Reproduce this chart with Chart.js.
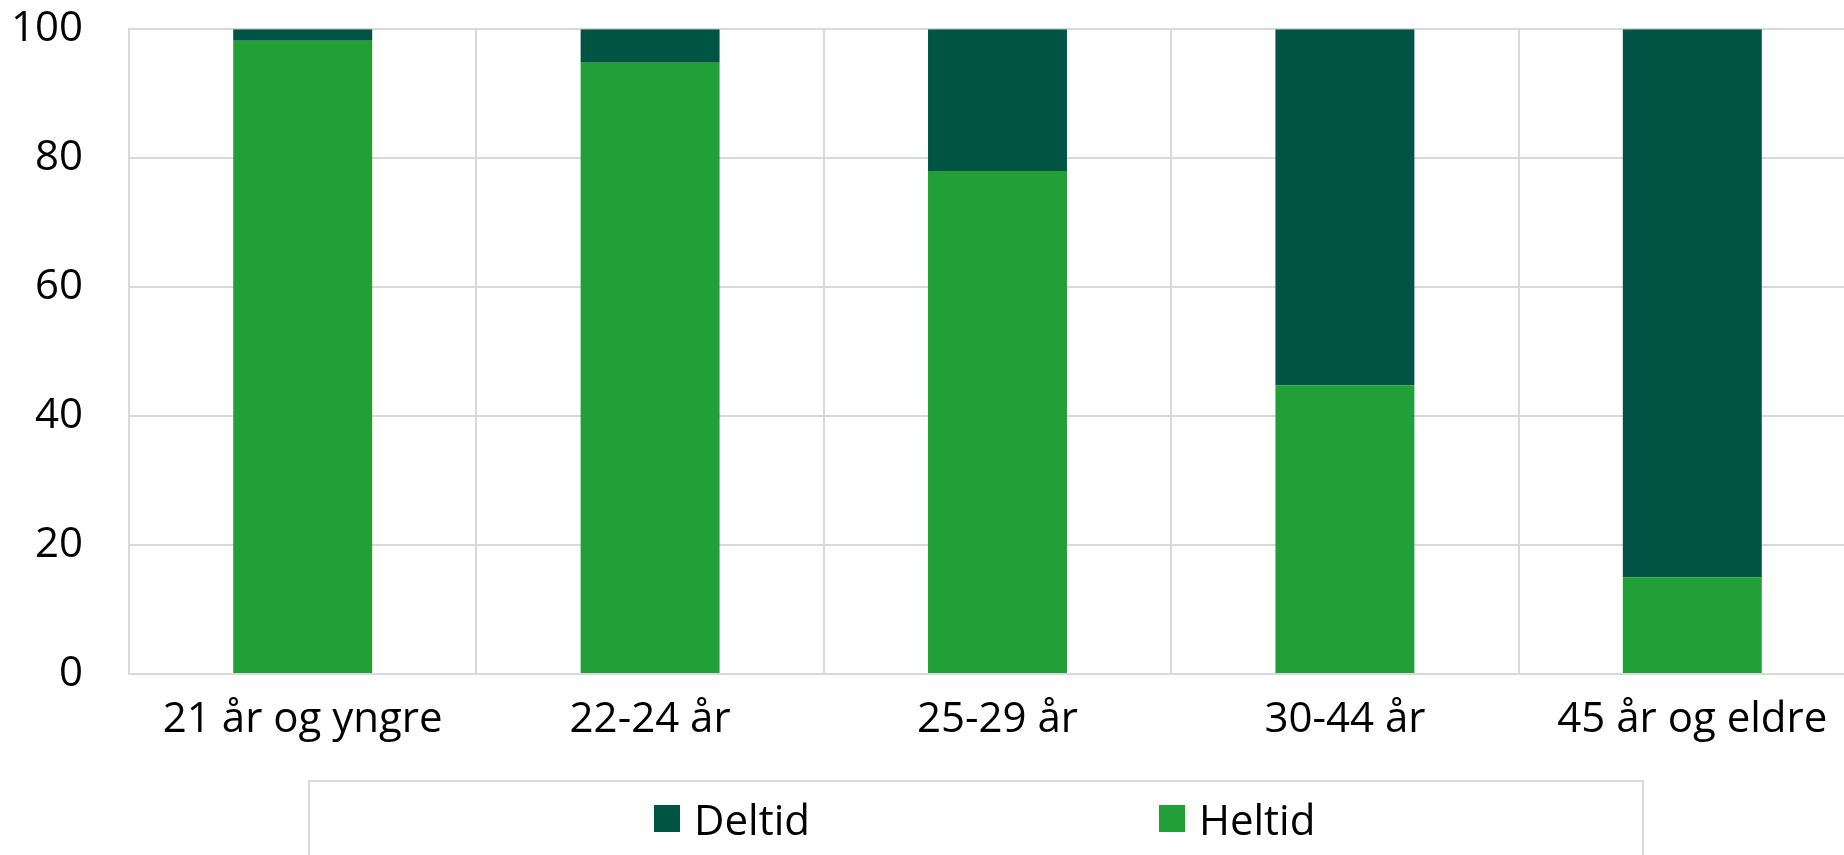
<!DOCTYPE html>
<html>
<head>
<meta charset="utf-8">
<script src="https://cdn.jsdelivr.net/npm/chart.js@4/dist/chart.umd.min.js"></script>
<style>
    html, body { margin: 0; padding: 0; background: #fff; overflow: hidden; }
    #wrap { position: relative; width: 1866px; height: 855px; overflow: hidden; }
    #chart { position: absolute; left: 0; top: -42px; }
    #legend {
        position: absolute; left: 308px; top: 780px; width: 1336px; height: 100px;
        border: 2px solid #d9d9d9; box-sizing: border-box;
        display: flex; justify-content: flex-start; gap: 349px;
        padding-top: 11px; padding-left: 344px;
        font-family: 'Open Sans', sans-serif; font-size: 42px; color: #000;
    }
    #legend .item { display: flex; align-items: center; height: 50px; }
    #legend .sw { width: 26px; height: 27px; margin-right: 14px; }
</style>
</head>
<body>
<div id="wrap">
    <canvas id="chart" width="1866" height="897"></canvas>
    <div id="legend"></div>
</div>
<script>
    // Aldersgrupper og andel heltid/deltid (prosent)
    const categories = ['21 år og yngre', '22-24 år', '25-29 år', '30-44 år', '45 år og eldre'];
    const heltid = [98.2, 94.8, 78.0, 44.8, 15.0];
    const deltid = [1.8, 5.2, 22.0, 55.2, 85.0];
    const yTicks = [0, 20, 40, 60, 80, 100];

    const GREEN = '#21a038';
    const DARK = '#005444';
    const GRID = '#d9d9d9';
    const FONT = { family: 'Open Sans', size: 42 };

    const datasets = [
        { label: 'Heltid', data: heltid, backgroundColor: GREEN },
        { label: 'Deltid', data: deltid, backgroundColor: DARK },
    ];

    new Chart(document.getElementById('chart'), {
        type: 'bar',
        data: { labels: categories, datasets: datasets },
        options: {
            responsive: false,
            animation: false,
            events: [],
            layout: { padding: 0 },
            datasets: { bar: { barPercentage: 0.4, categoryPercentage: 1.0 } },
            plugins: { legend: { display: false }, tooltip: { enabled: false } },
            scales: {
                x: {
                    stacked: true,
                    grid: { color: GRID, lineWidth: 2, drawTicks: false, offset: true },
                    border: { color: GRID, width: 2 },
                    ticks: { color: '#000', font: FONT, padding: 21, maxRotation: 0 },
                    afterFit: (scale) => { scale.height = 181; },
                },
                y: {
                    stacked: true,
                    min: 0,
                    max: 100,
                    afterBuildTicks: (scale) => { scale.ticks = yTicks.map(v => ({ value: v })); },
                    grid: { color: GRID, lineWidth: 2, drawTicks: false },
                    border: { color: GRID, width: 2 },
                    ticks: { color: '#000', font: FONT, padding: 46 },
                    afterFit: (scale) => { scale.width = 129; },
                },
            },
        },
    });

    // HTML-legende (Deltid først, som i originalen)
    const legend = document.getElementById('legend');
    [datasets[1], datasets[0]].forEach(ds => {
        const item = document.createElement('div');
        item.className = 'item';
        item.innerHTML = '<span class="sw" style="background:' + ds.backgroundColor + '"></span>' + ds.label;
        legend.appendChild(item);
    });
</script>
</body>
</html>
